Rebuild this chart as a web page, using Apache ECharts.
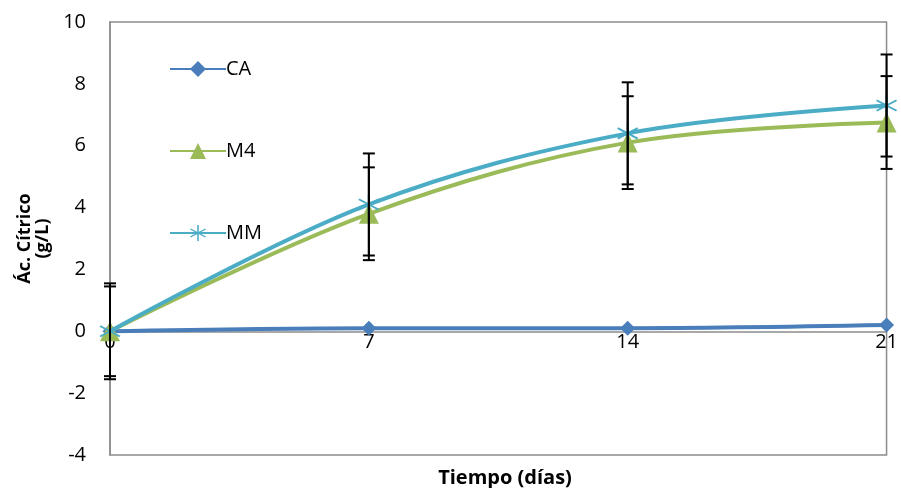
<!DOCTYPE html>
<html>
<head>
<meta charset="utf-8">
<script src="https://cdn.jsdelivr.net/npm/echarts@6/dist/echarts.min.js"></script>
<style>
html, body { margin: 0; padding: 0; background: #fff; }
#main { width: 901px; height: 488px; }
</style>
</head>
<body>
<div id="main"></div>
<script>
// datos
var dias = [0, 7, 14, 21];
var ca = [0, 0.1, 0.1, 0.2];
var m4 = [0, 3.8, 6.1, 6.75];
var mm = [0, 4.1, 6.4, 7.3];
var m4Err = [1.45, 1.5, 1.5, 1.5];
var mmErr = [1.55, 1.65, 1.65, 1.65];
var yTicks = [-4, -2, 0, 2, 4, 6, 8, 10];

var fuente = 'Open Sans';
var gridTop = 22, gridBottom = 33, altura = 488;

// asterisco para MM
function asterisco() {
    var p = '';
    [90, 30, -30].forEach(function (a) {
        var r = a * Math.PI / 180, L = 10, w = 0.9;
        var dx = Math.cos(r), dy = Math.sin(r), nx = -dy, ny = dx;
        var pts = [
            [dx * L + nx * w, dy * L + ny * w],
            [-dx * L + nx * w, -dy * L + ny * w],
            [-dx * L - nx * w, -dy * L - ny * w],
            [dx * L - nx * w, dy * L - ny * w]
        ];
        p += 'M' + pts.map(function (q) { return q[0].toFixed(2) + ',' + q[1].toFixed(2); }).join('L') + 'Z';
    });
    return 'path://' + p;
}

function pares(vals) {
    return dias.map(function (d, i) { return [d, vals[i]]; });
}
function barras(vals, err) {
    return dias.map(function (d, i) { return [d, vals[i] - err[i], vals[i] + err[i]]; });
}

function renderError(params, api) {
    var x = api.value(0);
    var lo = api.coord([x, api.value(1)]);
    var hi = api.coord([x, api.value(2)]);
    var w = 6;
    var st = { stroke: '#000', lineWidth: 2 };
    return {
        type: 'group',
        children: [
            { type: 'line', shape: { x1: hi[0], y1: hi[1], x2: lo[0], y2: lo[1] }, style: st },
            { type: 'line', shape: { x1: hi[0] - w, y1: hi[1], x2: hi[0] + w, y2: hi[1] }, style: st },
            { type: 'line', shape: { x1: lo[0] - w, y1: lo[1], x2: lo[0] + w, y2: lo[1] }, style: st }
        ]
    };
}

// el eje x va sobre el cero
var yMin = yTicks[0], yMax = yTicks[yTicks.length - 1];
var alto = altura - gridTop - gridBottom;
var offsetCero = -alto * (0 - yMin) / (yMax - yMin);

var myChart = echarts.init(document.getElementById('main'));

var option = {
    animation: false,
    title: {
        text: 'Tiempo (días)',
        left: 500,
        top: 463,
        textAlign: 'center',
        textStyle: { fontFamily: fuente, fontSize: 20, fontWeight: 'bold', color: '#000' }
    },
    grid: {
        left: 110, right: 11, top: gridTop, bottom: gridBottom,
        show: true, borderColor: '#8c8c8c', borderWidth: 1.5
    },
    legend: {
        orient: 'vertical',
        left: 164,
        top: 54,
        itemGap: 62,
        itemWidth: 56,
        itemHeight: 20,
        textStyle: { fontFamily: fuente, fontSize: 20, color: '#000', padding: [0, 0, 0, -5] },
        data: ['CA', 'M4', 'MM']
    },
    xAxis: {
        type: 'value',
        min: 0, max: 21, interval: 7,
        position: 'bottom',
        offset: offsetCero,
        axisLine: { onZero: false, lineStyle: { color: '#8c8c8c', width: 1.5 } },
        axisTick: { show: false },
        splitLine: { show: false },
        axisLabel: { fontFamily: fuente, fontSize: 20, color: '#000', margin: 1 }
    },
    yAxis: {
        type: 'value',
        min: yMin, max: yMax, interval: 2,
        name: 'Ác. Cítrico\n(g/L)',
        nameLocation: 'middle',
        nameRotate: 90,
        nameGap: 50,
        nameTextStyle: { fontFamily: fuente, fontSize: 18, fontWeight: 'bold', color: '#000', lineHeight: 18 },
        axisLine: { show: true, lineStyle: { color: '#8c8c8c', width: 1.5 } },
        axisTick: { show: false },
        splitLine: { show: false },
        axisLabel: { fontFamily: fuente, fontSize: 20, color: '#000', margin: 24 }
    },
    series: [
        {
            name: 'CA', type: 'line', smooth: 0.35, data: pares(ca),
            symbol: 'diamond', symbolSize: 15,
            lineStyle: { width: 4, color: '#4a7ebb' },
            itemStyle: { color: '#4a7ebb' }, z: 3
        },
        {
            name: 'M4', type: 'line', smooth: 0.35, data: pares(m4),
            symbol: 'triangle', symbolSize: 20,
            lineStyle: { width: 4, color: '#9bbb59' },
            itemStyle: { color: '#9bbb59' }, z: 3
        },
        {
            name: 'MM', type: 'line', smooth: 0.35, data: pares(mm),
            symbol: asterisco(), symbolSize: 21,
            lineStyle: { width: 4, color: '#4bacc6' },
            itemStyle: { color: '#4bacc6' }, z: 4
        },
        {
            type: 'custom', renderItem: renderError, data: barras(m4, m4Err),
            encode: { x: 0, y: [1, 2] }, z: 5, silent: true
        },
        {
            type: 'custom', renderItem: renderError, data: barras(mm, mmErr),
            encode: { x: 0, y: [1, 2] }, z: 5, silent: true
        }
    ]
};

myChart.setOption(option);
</script>
</body>
</html>
